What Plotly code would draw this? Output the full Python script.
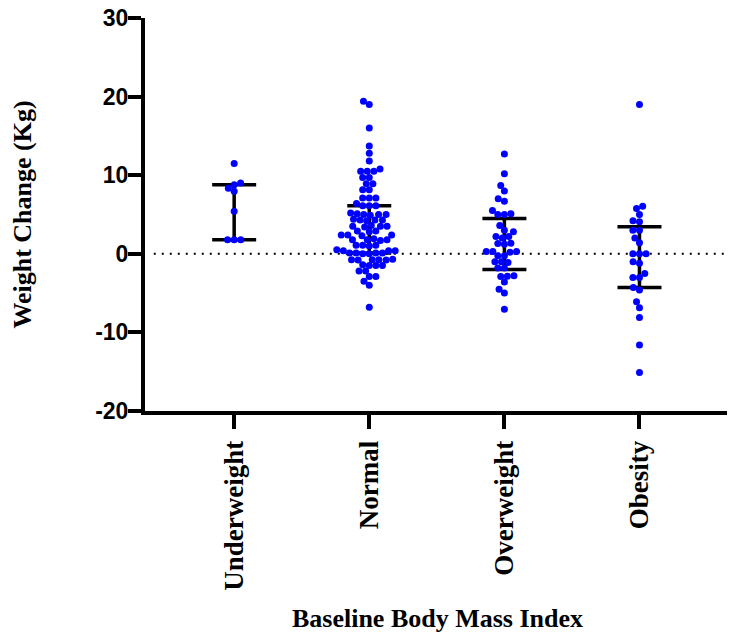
import plotly.graph_objects as go

categories = ["Underweight", "Normal", "Overweight", "Obesity"]

underweight = [11.5, 9.0, 8.8, 8.35, 7.95, 5.4, 1.8, 1.8, 1.8]
normal = [19.4, 19.0, 16.0, 13.7, 12.8, 11.8, 10.8, 10.5, 10.5, 10.5,
          9.7, 9.7, 8.9, 8.9, 8.15, 8.15, 7.1, 7.1, 7.1,
          6.4, 6.1, 6.1, 6.1,
          5.2, 5.0, 5.0, 4.9, 5.1, 5.0,
          4.3, 4.3, 4.2, 4.4, 4.3,
          3.5, 3.5, 3.6, 3.4, 3.5,
          2.9, 2.9, 2.8,
          2.4, 2.4, 2.3, 2.4,
          1.8, 1.8, 1.7, 1.8, 1.9,
          1.1, 1.1, 1.0, 1.1,
          0.4, 0.4, 0.5, 0.4,
          0.1, 0.1, 0.0, 0.1, 0.1, 0.0,
          -0.75, -0.75, -0.8, -0.7, -0.75, -0.8,
          -1.5, -1.5, -1.4, -1.5,
          -2.2, -2.2, -2.9, -2.9, -3.5, -4.0, -6.8]
overweight = [12.7, 10.2, 8.7, 8.0, 7.0, 6.7, 5.5, 5.1, 5.0, 5.0, 3.6,
              3.0, 2.8, 2.2, 2.2, 2.0, 1.35, 1.3, 1.2,
              0.3, 0.3, 0.2, 0.3, -0.25, -0.25,
              -1.0, -1.1, -1.0, -1.8, -1.8,
              -2.85, -2.8, -2.9, -3.6, -4.5, -5.0, -7.05]
obesity = [19.0, 6.05, 5.75, 5.0, 4.2, 4.07, 3.0, 3.0, 2.0, 1.4,
           0.0, 0.0, 0.0, -1.0, -1.2, -2.5, -3.0, -3.0,
           -4.3, -4.6, -6.1, -6.85, -8.1, -11.6, -15.1]

bar_low = [1.8, 0.1, -2.0, -4.3]
bar_high = [8.8, 6.1, 4.5, 3.45]

y_ticks = [-20, -10, 0, 10, 20, 30]
y_tick_text = ["-20", "-10", "0", "10", "20", "30"]

groups = [underweight, normal, overweight, obesity]

# layout constants (pixels); the page body adds an 8px offset
W, H = 727, 630
ML, MR, MT, MB = 137, 5, 10, 227
XR = (-0.66, 3.67)
YR = (-20, 30)
px_x = (W - ML - MR) / (XR[1] - XR[0])
px_y = (H - MT - MB) / (YR[1] - YR[0])
DOT = 6.6


def swarm(vals):
    placed = []
    offs = [0.0] * len(vals)
    order = sorted(range(len(vals)), key=lambda i: vals[i])
    for i in order:
        y = vals[i] * px_y
        iv = []
        for (px, py) in placed:
            dy = abs(py - y)
            if dy < DOT:
                w = (DOT ** 2 - dy ** 2) ** 0.5
                iv.append((px - w, px + w))
        cands = [0.0] + [a for a, b in iv] + [b for a, b in iv]
        cands.sort(key=lambda c: (abs(c), c))
        chosen = 0.0
        for c in cands:
            if all(not (a + 1e-6 < c < b - 1e-6) for a, b in iv):
                chosen = c
                break
        placed.append((chosen, y))
        offs[i] = chosen / px_x
    return offs


fig = go.Figure()

mid = [(lo + hi) / 2 for lo, hi in zip(bar_low, bar_high)]
half = [(hi - lo) / 2 for lo, hi in zip(bar_low, bar_high)]
fig.add_trace(go.Scatter(
    x=list(range(len(categories))), y=mid, mode="markers",
    marker=dict(size=1, color="rgba(0,0,0,0)"),
    error_y=dict(type="data", array=half, symmetric=True,
                 color="black", thickness=3.5, width=22),
    showlegend=False, hoverinfo="skip"))

for idx, (name, vals) in enumerate(zip(categories, groups)):
    offs = swarm(vals)
    fig.add_trace(go.Scatter(
        x=[idx + o for o in offs], y=vals, mode="markers", name=name,
        marker=dict(size=7, color="#0000FF", line=dict(width=0)),
        showlegend=False))

fig.add_shape(type="line", xref="paper", yref="y", x0=0.015, x1=1, y0=0, y1=0,
              line=dict(color="black", width=2, dash="2px,6px"), layer="below")

serif_tick = dict(family="Liberation Serif, Times New Roman, serif", size=27,
                  color="black", weight="bold")
serif_title = dict(family="Liberation Serif, Times New Roman, serif", size=26,
                   color="black", weight="bold")
sans = dict(family="Liberation Sans, Arial, sans-serif", size=23,
            color="black", weight="bold")

fig.update_layout(
    width=W, height=H,
    margin=dict(l=ML, r=MR, t=MT, b=MB, autoexpand=False),
    paper_bgcolor="white", plot_bgcolor="white",
    xaxis=dict(range=list(XR), tickvals=list(range(len(categories))),
               ticktext=categories, tickangle=-90, tickfont=serif_tick,
               ticks="outside", ticklen=14, tickwidth=4, tickcolor="black",
               showline=True, linewidth=4, linecolor="black",
               showgrid=False, zeroline=False, ticklabelstandoff=1,
               automargin=False, ticklabeloverflow="allow",
               title=dict(text="Baseline Body Mass Index", font=serif_title,
                          standoff=20)),
    yaxis=dict(range=list(YR), tickvals=y_ticks, ticktext=y_tick_text,
               tickfont=sans, automargin=False, ticklabeloverflow="allow",
               ticks="outside", ticklen=13, tickwidth=4, tickcolor="black",
               showline=True, linewidth=4, linecolor="black",
               showgrid=False, zeroline=False, ticklabelstandoff=-5,
               title=dict(text="Weight Change (Kg)", font=serif_title,
                          standoff=71)),
)

fig.write_html("out.html")
